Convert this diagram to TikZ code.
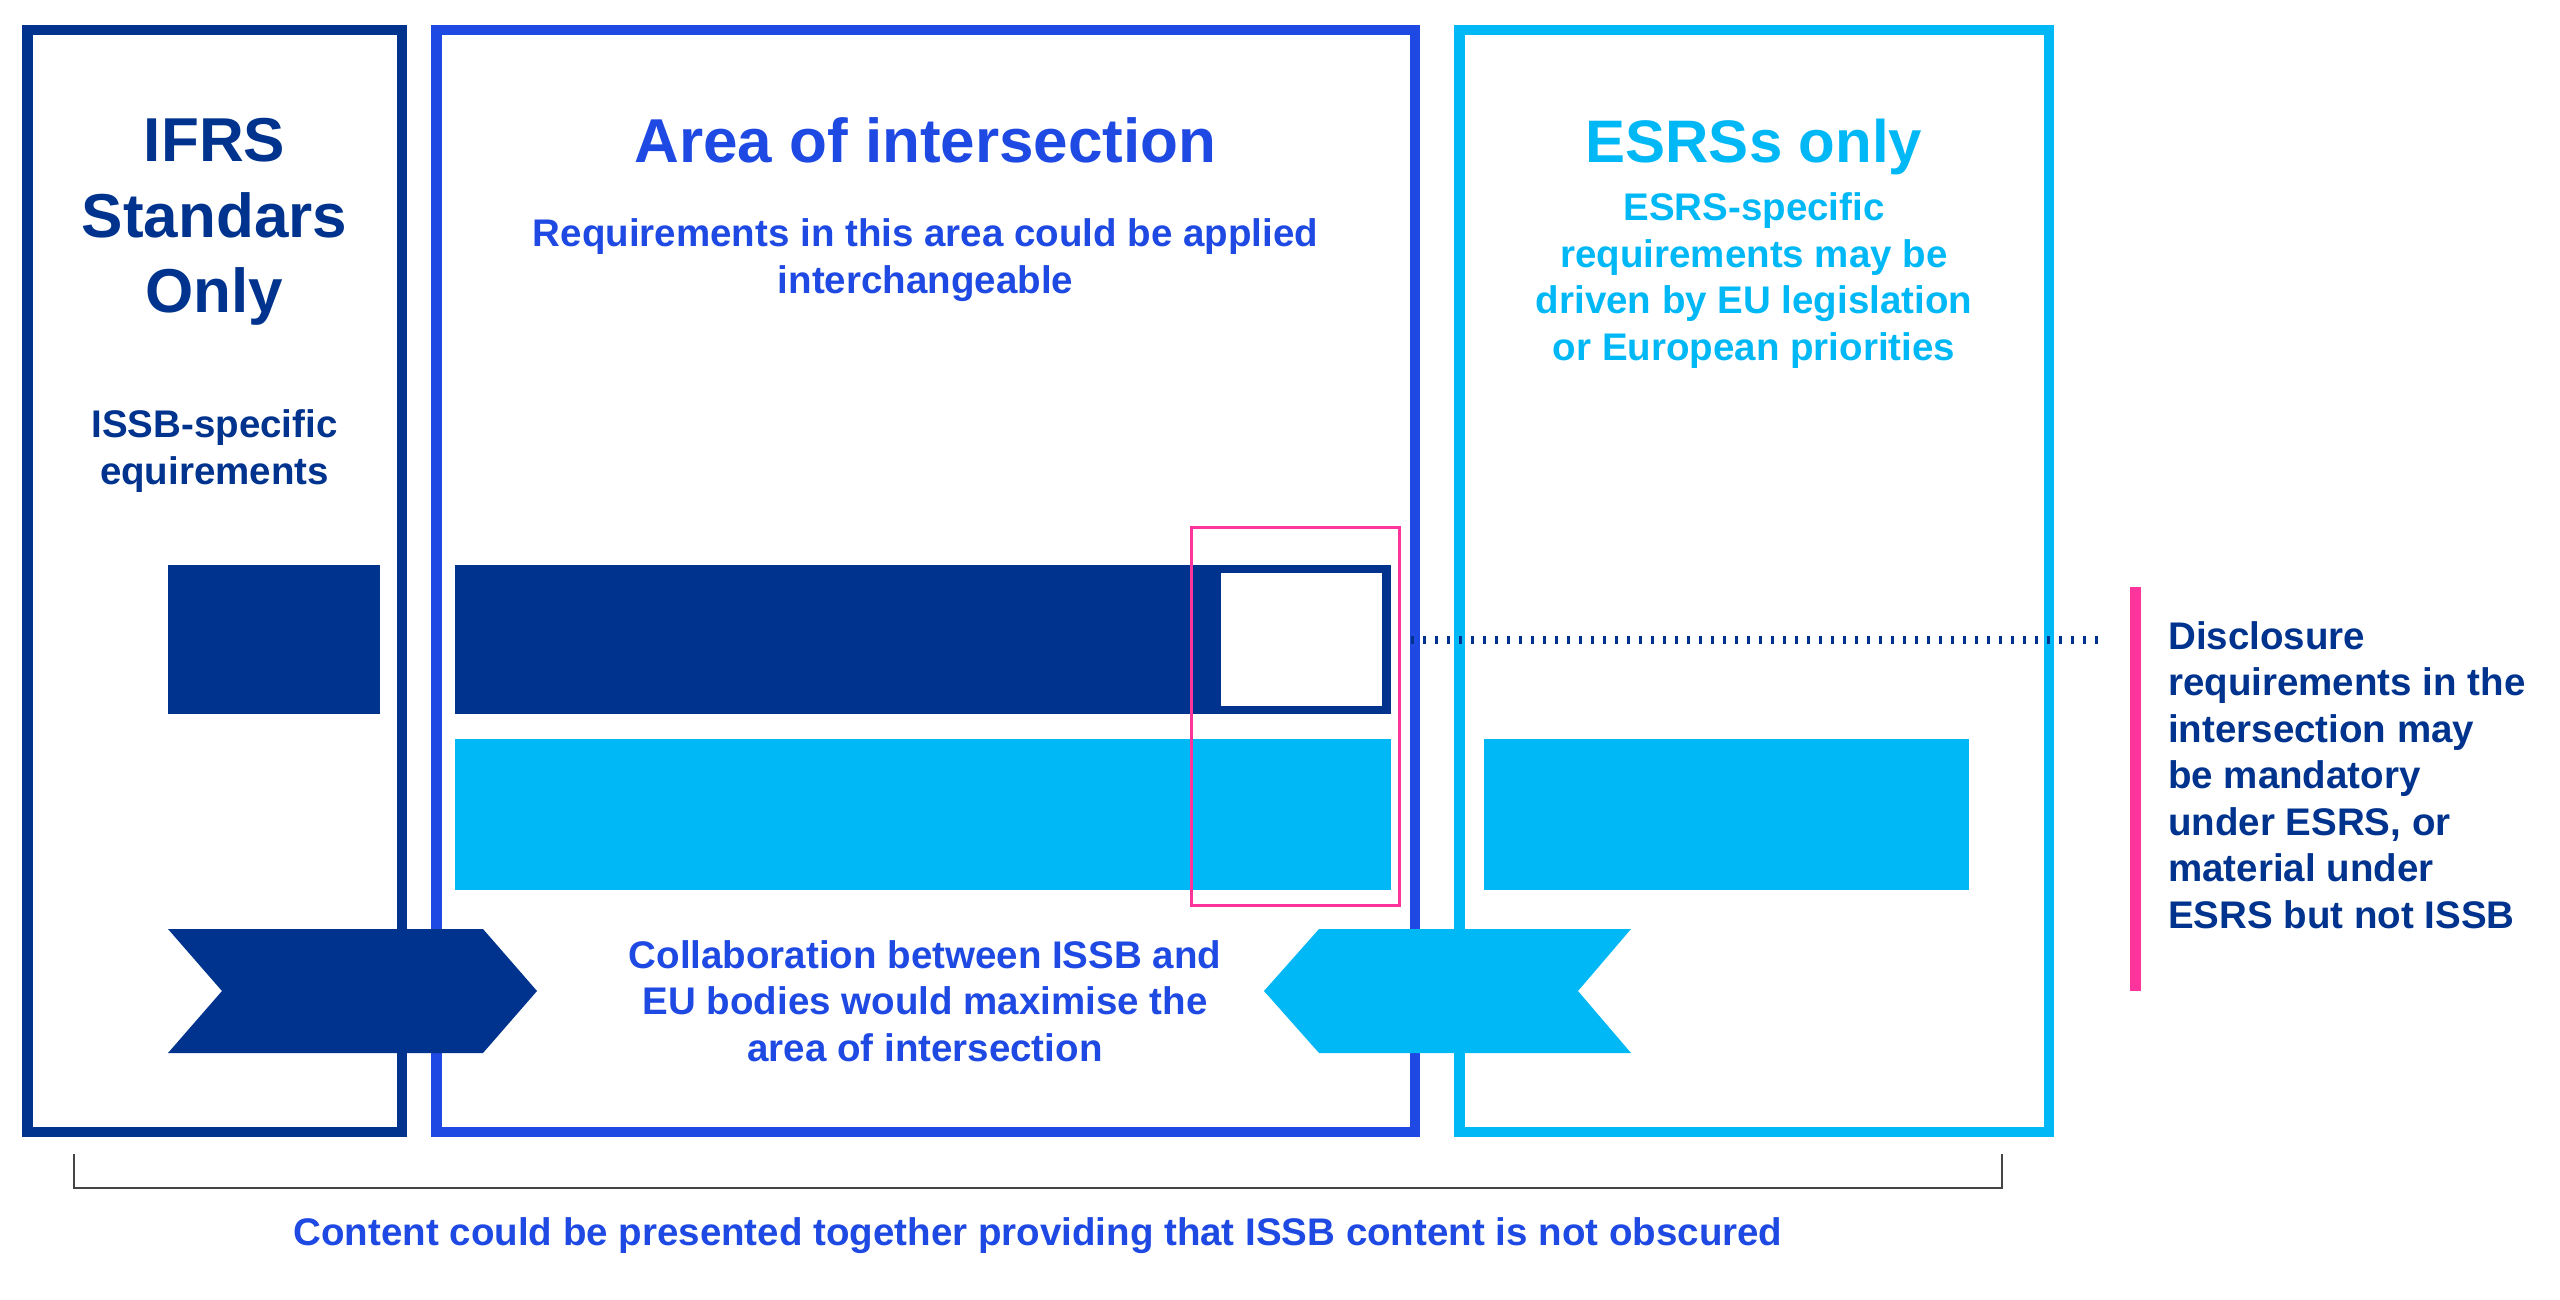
\documentclass[tikz,border=0pt]{standalone}
\usepackage{fontspec}
\setmainfont{Liberation Sans}
\definecolor{navy}{HTML}{00338D}
\definecolor{cobalt}{HTML}{1E49E2}
\definecolor{lightb}{HTML}{00B8F5}
\definecolor{pinkk}{HTML}{FD349C}
\definecolor{grayline}{HTML}{444444}
\begin{document}
\begin{tikzpicture}[x=1pt,y=-1pt,
  panel/.style={draw, line width=10.5pt, rectangle, inner sep=0, minimum height=1101.5pt},
  barbox/.style={rectangle, inner sep=0, draw=none},
  titletext/.style={font=\fontsize{62}{75}\selectfont\bfseries, align=center, inner sep=0},
  bodytext/.style={font=\fontsize{38.5}{46.5}\selectfont\bfseries, align=center, inner sep=0}
]
\useasboundingbox (0,0) rectangle (2560,1300);
\fill[white] (0,0) rectangle (2560,1300);

% panels
\node[panel, draw=navy, minimum width=374.5pt] (ifrs) at (214.5,581) {};
\node[panel, draw=cobalt, minimum width=978.5pt] (inter) at (925.5,581) {};
\node[panel, draw=lightb, minimum width=589.5pt] (esrs) at (1754,581) {};

% bars
\node[barbox, fill=navy, minimum width=212pt, minimum height=149pt] (navysmall) at (274,639.5) {};
\node[barbox, fill=navy, minimum width=936pt, minimum height=149pt] (navybar) at (923,639.5) {};
\node[barbox, fill=white, minimum width=161pt, minimum height=133pt] (inset) at (1301.5,639.5) {};
\node[barbox, fill=lightb, minimum width=936pt, minimum height=151pt] (lightbar) at (923,814.5) {};
\node[barbox, fill=lightb, minimum width=485pt, minimum height=151pt] (lightright) at (1726.5,814.5) {};

% pink highlight
\node[rectangle, draw=pinkk, line width=3pt, inner sep=0, minimum width=208pt, minimum height=378pt] (pinkbox) at (1295.5,716.5) {};
\node[barbox, fill=pinkk, minimum width=11pt, minimum height=404pt] (pinkbar) at (2135.5,789) {};

% dotted connector
\coordinate (dotA) at (1411,640);
\coordinate (dotB) at (2106,640);
\draw[navy, line width=8pt, dash pattern=on 3pt off 9pt] (dotA) -- (dotB);

% chevrons
\fill[navy] (168,929) -- (483,929) -- (537,991) -- (483,1053) -- (168,1053) -- (222,991) -- cycle;
\fill[lightb] (1319,929) -- (1631,929) -- (1578,991) -- (1631,1053) -- (1319,1053) -- (1264,991) -- cycle;

% bracket
\coordinate (brA) at (74,1154);
\coordinate (brB) at (2002,1154);
\draw[grayline, line width=1.5pt] (brA) -- (74,1188) -- (2002,1188) -- (brB);

% texts (base anchor = baseline of the last line)
\node[titletext, text=navy, anchor=base] (t1) at (214.5,312) {IFRS\\Standars\\Only};
\node[titletext, text=cobalt, anchor=base] (t2) at (925.5,162.5) {Area of intersection};
\node[titletext, font=\fontsize{60}{75}\selectfont\bfseries, text=lightb, anchor=base] (t3) at (1754,163) {ESRSs only};
\node[bodytext, text=cobalt, anchor=base] (s2) at (925.5,293) {Requirements in this area could be applied\\interchangeable};
\node[bodytext, text=navy, anchor=base] (s1) at (214.5,484) {ISSB-specific\\equirements};
\node[bodytext, text=lightb, anchor=base] (s3) at (1754,360) {ESRS-specific\\requirements may be\\driven by EU legislation\\or European priorities};
\node[bodytext, text=cobalt, anchor=base] (collab) at (925,1061) {Collaboration between ISSB and\\EU bodies would maximise the\\area of intersection};
\node[bodytext, text=navy, align=left, anchor=base west] (disc) at (2168,928) {Disclosure\\requirements in the\\intersection may\\be mandatory\\under ESRS, or\\material under\\ESRS but not ISSB};
\node[bodytext, text=cobalt, anchor=base] (bottom) at (1038,1245.6) {Content could be presented together providing that ISSB content is not obscured};
\end{tikzpicture}
\end{document}
